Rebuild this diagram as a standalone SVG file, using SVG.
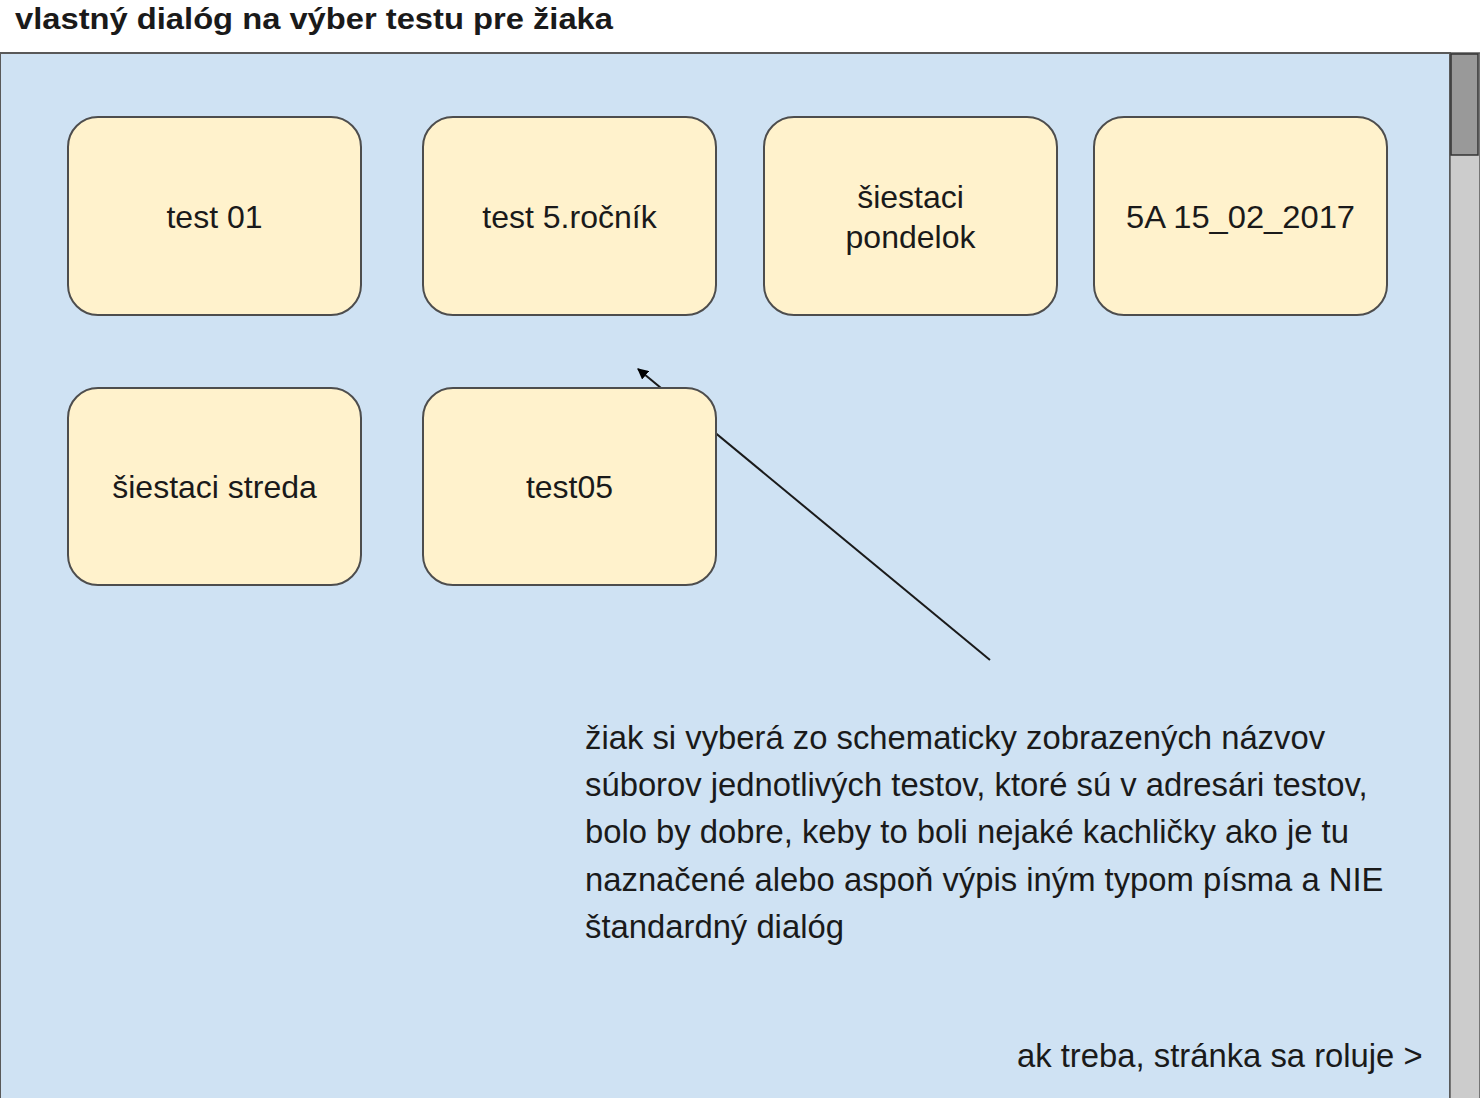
<svg xmlns="http://www.w3.org/2000/svg" width="1480" height="1098" viewBox="0 0 1480 1098">
<defs>
<style>
.t{font-family:"Liberation Sans",Arial,Helvetica,sans-serif;fill:#1a1a1a}
.node rect{fill:#fff2cc;stroke:#4d4d4d;stroke-width:2}
.lbl{font-size:32px;text-anchor:middle}
.para{font-size:32.8px}
</style>
<marker id="ah" viewBox="0 0 10 10" refX="9" refY="5" markerWidth="11" markerHeight="11" markerUnits="userSpaceOnUse" orient="auto"><path d="M0,0 L10,5 L0,10 z" fill="#000"/></marker>
</defs>
<rect width="1480" height="1098" fill="#fff"/>
<text class="t" x="15" y="29" font-size="29" font-weight="bold" fill="#000" textLength="598" lengthAdjust="spacingAndGlyphs">vlastný dialóg na výber testu pre žiaka</text>
<g id="panel">
<rect x="0" y="53" width="1450" height="1060" fill="#cfe2f3" stroke="#595959" stroke-width="2"/>
<rect x="1450" y="53" width="30" height="1060" fill="#cccccc" stroke="#595959" stroke-width="1.5"/>
<rect x="1451" y="54" width="27" height="101" fill="#999999" stroke="#333" stroke-width="1.5"/>
</g>
<g id="connectors">
<line x1="990" y1="660" x2="638" y2="369" stroke="#1a1a1a" stroke-width="2" marker-end="url(#ah)"/>
</g>
<g id="n1" class="node"><rect x="68" y="117" width="293" height="198" rx="30"/><text class="t lbl" x="214.5" y="228">test 01</text></g>
<g id="n2" class="node"><rect x="423" y="117" width="293" height="198" rx="30"/><text class="t lbl" x="569.5" y="228">test 5.ročník</text></g>
<g id="n3" class="node"><rect x="764" y="117" width="293" height="198" rx="30"/><text class="t lbl" x="910.5" y="208">šiestaci</text><text class="t lbl" x="910.5" y="248">pondelok</text></g>
<g id="n4" class="node"><rect x="1094" y="117" width="293" height="198" rx="30"/><text class="t lbl" x="1240.5" y="228" textLength="229" lengthAdjust="spacingAndGlyphs">5A 15_02_2017</text></g>
<g id="n5" class="node"><rect x="68" y="388" width="293" height="197" rx="30"/><text class="t lbl" x="214.5" y="498">šiestaci streda</text></g>
<g id="n6" class="node"><rect x="423" y="388" width="293" height="197" rx="30"/><text class="t lbl" x="569.5" y="498">test05</text></g>
<g id="note">
<text class="t para" x="585" y="749">žiak si vyberá zo schematicky zobrazených názvov</text>
<text class="t para" x="585" y="796">súborov jednotlivých testov, ktoré sú v adresári testov,</text>
<text class="t para" x="585" y="843">bolo by dobre, keby to boli nejaké kachličky ako je tu</text>
<text class="t para" x="585" y="891">naznačené alebo aspoň výpis iným typom písma a NIE</text>
<text class="t para" x="585" y="938">štandardný dialóg</text>
<text class="t para" x="1017" y="1067">ak treba, stránka sa roluje &gt;</text>
</g>
</svg>
